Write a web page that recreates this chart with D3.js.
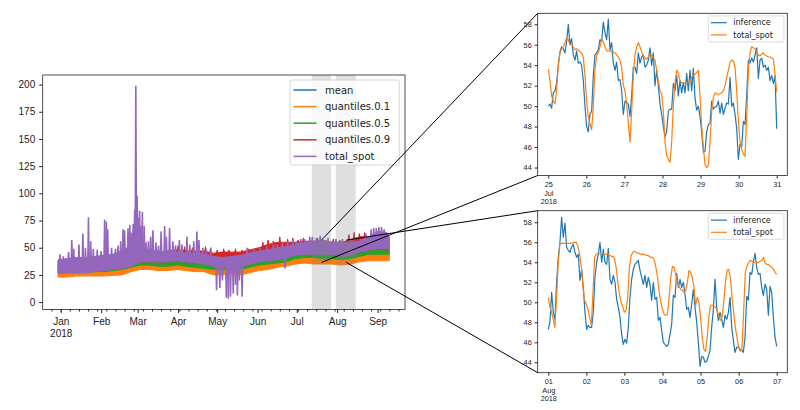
<!DOCTYPE html>
<html>
<head>
<meta charset="utf-8">
<script src="https://cdn.jsdelivr.net/npm/d3@7"></script>
<style>
  body { margin: 0; background: #fff; }
  svg { font-family: "DejaVu Sans", sans-serif; }
  .tick text { fill: #222; }
  .tick line { stroke: #222; }
</style>
</head>
<body>
<svg id="chart" width="800" height="410"></svg>
<script>

/**********************
***** DATA *****
**********************/

// left panel: dates are days after 30 Dec 2017, bands read roughly weekly
const bandDays = [0,7,14,21,28,35,42,49,56,63,70,77,84,91,98,105,112,119,126,133,140,147,154,161,168,175,182,189,196,203,210,217,224,231,238,245,252,254];
const meanVals = [30,29.5,29.5,30,30,31,31,32,34.5,36.5,36.5,36,36,37,36,35,34,33,32.5,33,32.5,34.5,36.5,37.5,38.5,40,42.5,43.5,43.5,43,42.5,41.5,42.5,45,47,47.5,47.5,47];
const q10Lo = [23,23,24,24,24,24,24.5,25,28,30,30,29,29,30,29,28,28,25,25,26,25,27,29,30,32,33,35,36,35,35,35,34,35,37,38,38,38,38];
const q10Hi = [29,28,28,28.5,29,29,29.5,31,33,36,35.5,35,35,36,35,34,33,32,31,32,31,33,35,36,37,38,40,41,41,40,40,39,40,43,44,45,45,44];
const q50Lo = [27,27,27,27,28,28,29,30,32,34,34,33,33,34,33,32,31,30,30,30,30,32,34,35,36,37,40,41,41,40,40,39,40,42,44,44,44,44];
const q50Hi = [32,31,31,32,32,33,33,34,37,39,39,38.5,39,39.5,38.5,37.5,37,36,35,36,35,37,39,40,41,43,45,46,46,46,45,44,45,48,50,51,51,50];
const q90Lo = [30,30,31,31,32,32,32,33,35,37,37,37,37,38,37,36,36,35,35,35,34,36,38,39,41,42,44,45,45,45,45,44,45,47,48,49,48,48];
const q90Hi = [38,39,40,40,41,41,41,42,44,45,46,46,47,48,47,47,47,45,46,46,46,48,50,53,55,55,55,56,56,56,55,55,57,60,60,60,59,57];
const spotLo = [26,27,27,27,28,29,30,31,33,37,37,37,37,38,37,36,35,33,32,33,33,35,37,38,39,41,43,44,44,44,44,42,43,46,48,49,49,48];
const spotHi = [39,40,41,41,42,43,44,47,52,50,48,47,46,46,45,45,44,42,41,42,43,45,47,48,50,51,53,55,56,57,55,55,55,56,60,65,64,60];

// total_spot spikes above / below its band
const spikeDays = [1.5,4,8,10.5,12,16,19,21,23.3,25,27,30,33,35.7,37,38,41,44,46,48,49.8,51,53.6,55,56,57.5,58.7,59.6,60.6,61.5,62.5,63.5,64.6,66,67.5,69.3,71,72.7,75,77,79,81.7,83,85.5,88,90,93,95,98.8,101,104,106.4,108,111,113.6,117,145,150,155,160,165,168,172,176,180,183,186,189,193,195,198,201,207,213,218,225,232,236,240,242,244,246,248,250];
const spikeVals = [44,42,46,57,49,53,63,50,78,56,49,48,47,76,74,67,50,49,52,56,67,66,68,71,64,72,85,199,98,78,84,70,83,70,55,56,60,66,55,52,65,70,60,68,56,52,57,53,60,53,56,65,57,50,49,50,50,49,50,51,53,53,55,55,57,56,58,58,60,60,59,61,59,58,58,58,58,63,67,68,68,69,69,67];
const dipDays = [121.5,124,126,129,130.5,132.2,134.3,136,137.5,139,141.1,174];
const dipVals = [11,13,20,4,3,5,8,16,6,20,5,31];

// daily peaks of quantiles.0.9 poking above the purple
const redPeakDays = [88,92,97,103,108,113,117,122,127,131,136,141,146,157,161,165,170,176,180,184,188,193,199,205,211,216,223,227,231,235];
const redPeakVals = [51,52,51,50,51,51,50,48,49,48,49,48,49,55,57,56,60,58,59,57,59,58,59,57,58,57,62,64,63,64];

// shaded windows and zoom connectors (days after 30 Dec 2017)
const spanStart = [194.5, 213];
const spanEnd = [209.3, 228.2];
const connectDays = [202, 221];
const connectVals = [57, 36.5];

const leftLabels = ["mean", "quantiles.0.1", "quantiles.0.5", "quantiles.0.9", "total_spot"];
const monthLabels = ["Jan", "Feb", "Mar", "Apr", "May", "Jun", "Jul", "Aug", "Sep"];
const leftYTicks = [0, 25, 50, 75, 100, 125, 150, 175, 200];

// right panels: roughly hourly readings, 25-31 Jul and 01-07 Aug 2018
const julInference = [50,50.2,49.8,51.3,51.5,52.3,54,55.3,55.8,55.6,55.2,56.3,58,56,56.6,55,54.5,55.4,54.2,54.3,54,52.5,50,48,47.5,49.2,49.5,53,55,55.2,55.5,56.5,56.3,58.2,57.2,56.5,58.5,55.5,56.2,54.2,53.5,54.3,52.5,52.6,51.5,49.2,50.5,50.3,50.2,49,51,53.8,53.8,53.2,55.2,54.2,54.8,55,53.8,54,54.5,55.7,54,55.2,52,53.5,52,50.2,49.2,48,47,47.5,49.5,49.7,49.7,52.2,51.5,53,51,52.5,51.3,52.3,51.3,53.2,51.5,53.5,51.5,53.7,50.8,49.6,50,49,47.5,45.5,45.6,47.5,48.2,48.3,50.5,49.7,49.9,50,50.5,49.3,50.3,49.2,49.8,50.3,50.2,52.8,50,50.3,49.2,47.8,44.8,46.3,46,48.5,48.2,51,54.5,54.2,54.7,54.3,55,55.7,52.7,54.5,54.7,53.8,54,53.5,53.8,52.5,53,52.2,53,47.8];
const julSpot = [53.6,52.5,51,50.5,50.2,51.5,54,55.2,55.6,55.8,56.2,56.7,56.5,56,56,55.8,55.5,55.6,55.5,55.3,55.2,54.8,53,50.5,49,48.3,47.7,50,53.5,55,55.2,55.8,56.5,56.3,55.8,55.4,55.4,55.4,55.3,55.3,55.2,55,54.8,54.5,53.8,52,51.5,50.3,48.3,46.5,49.5,53,55,55.8,56.2,55.8,55.3,54.9,54.7,54.6,54.8,55.1,55,54.7,54.5,53.5,52.5,51.5,51.2,49.5,46.5,45.2,44.8,44.5,46.5,50,52.3,53.5,53.2,52.5,52.3,52.3,52.2,52.2,52.3,52.4,52.8,53,53.1,53.3,53.5,51,48,46,44.3,44,44.2,46.5,49.5,50.8,51.3,51.2,51.1,51.2,51.3,51.5,52,52.8,53.5,54.3,54.5,54.4,53.8,51.5,48.5,46.5,45.8,45.3,45.1,49,53.5,55.2,55.8,55.7,55.6,55.3,55,54.9,55.1,55.2,55,54.9,54.8,54.8,54.7,54.6,53,51.4];
const augInference = [47.3,48,51,49,48.3,52,54.5,56,58.5,56.5,57.9,55.5,55.2,55,55.5,55.8,55,54.5,54.8,52.2,53.3,51.5,49,47.3,47.7,47.5,47.5,49,52.5,54,54.8,56,54,55.3,54,53.8,55.4,52.3,51.8,52.7,52,50.3,49.5,48.5,46.8,45.8,46.3,45.9,47.5,50.5,52.3,53.3,53.8,54,54.2,53.2,52.5,51.8,52.7,51.5,52.5,51.8,50.2,52,50.3,50.5,48.2,48.5,47.2,46,45.8,45.6,45.8,46.8,47.8,50.7,50.5,52.9,51.5,52.3,51.5,52,50.8,49.3,49.5,48.5,49.8,51.3,49.5,48,46,43.6,44.6,44.5,44,44.1,44.6,45.2,47.5,49.3,52.3,49.5,48.2,49,48.3,47.5,48.7,48.3,49,50.5,47.5,46.2,45,45.5,45.5,45.3,45.2,45,46.5,50.6,50.2,53,52.8,54,54.9,53.5,52.8,52.9,51.5,50.7,51.8,51.3,48.7,51.6,51,48.5,46.5,45.6];
const augSpot = [50.5,49.5,49,48.3,47.5,50.5,54,55.8,55.9,55.9,55.9,55.9,55.9,55.9,55.9,56,56,56,55.5,54.8,53.5,51.5,50.2,49.8,49.3,48.5,47.7,51,54.5,54.8,54.9,54.9,54.9,54.9,54.8,54.8,54.8,54.7,54.6,54.6,54.4,53.5,52,50.8,50,49.5,49,49.2,50.5,53.5,54.6,55,55.1,55,54.9,54.9,54.8,54.8,54.8,54.7,54.7,54.6,54.5,54.5,54.3,53.5,52.5,51,50,49.3,48.8,48.7,48.8,50.5,52.5,53.6,53.5,52.8,52,51.6,51.3,51.2,51,51.2,52,53.2,53,52.5,51.5,49.7,50.5,50,48.5,46.5,45.3,45.1,46.5,48.5,49.7,49.7,49.6,49.5,49.2,48.6,48.2,48.5,50,52,53.2,53.3,52.5,50.5,49,47.5,46.5,45.5,45.1,45.3,49,53,53.6,54,54.2,54.1,54,54,54,54,54.1,54.2,54.5,53.9,53.8,53.8,53.6,53.5,53.3,53,52.8];

const rightLabels = ["inference", "total_spot"];
const rightYTicks = [44, 46, 48, 50, 52, 54, 56, 58];

/**********************
***** BASIC SETUP *****
**********************/

const svg = d3.select("#chart");
const C = {blue: "#1f77b4", orange: "#ff7f0e", green: "#2ca02c", red: "#d62728", purple: "#9467bd"};
const DAY = 864e5;
const base = Date.UTC(2017, 11, 30);
const dayDate = d => new Date(base + d * DAY);

/***********************
***** LEFT PANEL *****
***********************/

const L = {left: 42.7, right: 405, top: 75, bottom: 309.5};

const xL = d3.scaleUtc()
    .domain([dayDate(-11.8), dayDate(266)])
    .range([L.left, L.right]);

const yL = d3.scaleLinear()
    .domain([-6.8, 208.8])
    .range([L.bottom, L.top]);

const left = svg.append("g").attr("id", "left");

// mean first, it ends up hidden under the bands
left.append("path")
    .datum(bandDays)
    .attr("fill", "none")
    .attr("stroke", C.blue)
    .attr("stroke-width", 1.5)
    .attr("d", d3.line().x(d => xL(dayDate(d))).y((d, i) => yL(meanVals[i])));

function band(lo, hi, color) {
    left.append("path")
        .datum(bandDays)
        .attr("fill", color)
        .attr("stroke", color)
        .attr("stroke-width", 1)
        .attr("d", d3.area()
            .x(d => xL(dayDate(d)))
            .y0((d, i) => yL(lo[i]))
            .y1((d, i) => yL(hi[i])));
}

// middle of a band, used as the foot of the spikes
function bandMid(lo, hi) {
    return d3.scaleLinear()
        .domain(bandDays)
        .range(bandDays.map((d, i) => (lo[i] + hi[i]) / 2));
}

const spikeLine = d3.line().x(p => xL(dayDate(p[0]))).y(p => yL(p[1]));

function spikes(days, vals, mid, halfWidth, color, width) {
    left.append("g").selectAll("path")
        .data(days.map((d, i) => [d, vals[i]]))
        .enter()
        .append("path")
        .attr("fill", color)
        .attr("stroke", color)
        .attr("stroke-width", width)
        .attr("d", s => spikeLine([[s[0] - halfWidth, mid(s[0])], [s[0], s[1]], [s[0] + halfWidth, mid(s[0])]]));
}

band(q10Lo, q10Hi, C.orange);
band(q50Lo, q50Hi, C.green);
band(q90Lo, q90Hi, C.red);
spikes(redPeakDays, redPeakVals, bandMid(q90Lo, q90Hi), 1.3, C.red, 1);
band(spotLo, spotHi, C.purple);

const spotMid = bandMid(spotLo, spotHi);
spikes(spikeDays, spikeVals, spotMid, 0.5, C.purple, 1.6);
spikes(dipDays, dipVals, spotMid, 0.5, C.purple, 1.6);

// grey windows drawn over the lines
left.selectAll(".span")
    .data(spanStart)
    .enter()
    .append("rect")
    .attr("class", "span")
    .attr("x", (d, i) => xL(dayDate(d)))
    .attr("width", (d, i) => xL(dayDate(spanEnd[i])) - xL(dayDate(d)))
    .attr("y", L.top)
    .attr("height", L.bottom - L.top)
    .attr("fill", "#808080")
    .attr("opacity", 0.25);

// axes
const monthTicks = d3.range(0, 9).map(m => new Date(Date.UTC(2018, m, 1)));

const xAxisL = left.append("g")
    .attr("transform", `translate(0, ${L.bottom})`)
    .call(d3.axisBottom(xL)
        .tickValues(monthTicks)
        .tickSize(3.5)
        .tickPadding(4.5)
        .tickFormat((d, i) => monthLabels[i]));
xAxisL.selectAll("text").attr("font-size", 10);
xAxisL.select(".tick text")
    .append("tspan").attr("x", 0).attr("dy", "1.2em").text("2018");
xAxisL.select(".domain").remove();

left.append("g")
    .attr("transform", `translate(0, ${L.bottom})`)
    .call(d3.axisBottom(xL)
        .ticks(d3.utcMonday.every(1))
        .tickSize(2)
        .tickFormat(""))
    .call(g => g.select(".domain").remove());

const yAxisL = left.append("g")
    .attr("transform", `translate(${L.left}, 0)`)
    .call(d3.axisLeft(yL)
        .tickValues(leftYTicks)
        .tickSize(3.5)
        .tickPadding(4));
yAxisL.selectAll("text").attr("font-size", 10);
yAxisL.select(".domain").remove();

left.append("rect")
    .attr("x", L.left).attr("y", L.top)
    .attr("width", L.right - L.left).attr("height", L.bottom - L.top)
    .attr("fill", "none").attr("stroke", "#222").attr("stroke-width", 0.8);

// legend
const legL = left.append("g").attr("transform", "translate(290, 80)");
legL.append("rect")
    .attr("width", 109.3).attr("height", 85).attr("rx", 2)
    .attr("fill", "#fff").attr("fill-opacity", 0.8)
    .attr("stroke", "#ccc").attr("stroke-width", 0.8);

const legColors = [C.blue, C.orange, C.green, C.red, C.purple];
leftLabels.forEach((lab, i) => {
    const y = 10 + i * 16.6;
    legL.append("line")
        .attr("x1", 3.5).attr("x2", 26.5).attr("y1", y).attr("y2", y)
        .attr("stroke", legColors[i]).attr("stroke-width", 1.5);
    legL.append("text")
        .attr("x", 35).attr("y", y).attr("dy", "0.35em")
        .attr("font-size", 10).attr("fill", "#222")
        .text(lab);
});

/***********************
***** RIGHT PANELS *****
***********************/

function rightPanel(startUtc, yTop, yBottom, yDomain, inference, spot) {
    const R = {left: 537.7, right: 787.3, top: yTop, bottom: yBottom};
    const t0 = startUtc;
    const x = d3.scaleUtc()
        .domain([new Date(t0 - 0.278 * DAY), new Date(t0 + 6.278 * DAY)])
        .range([R.left, R.right]);
    const y = d3.scaleLinear().domain(yDomain).range([R.bottom, R.top]);
    const g = svg.append("g");

    [[inference, C.blue], [spot, C.orange]].forEach(([vals, color]) => {
        const step = 6 * DAY / (vals.length - 1);
        g.append("path")
            .datum(vals)
            .attr("fill", "none")
            .attr("stroke", color)
            .attr("stroke-width", 1.2)
            .attr("stroke-linejoin", "round")
            .attr("d", d3.line()
                .x((d, i) => x(new Date(t0 + i * step)))
                .y(d => y(d)));
    });

    const dayTicks = d3.range(0, 7).map(i => new Date(t0 + i * DAY));
    const xa = g.append("g")
        .attr("transform", `translate(0, ${R.bottom})`)
        .call(d3.axisBottom(x)
            .tickValues(dayTicks)
            .tickSize(3)
            .tickPadding(3.5)
            .tickFormat(d3.utcFormat("%d")));
    xa.selectAll("text").attr("font-size", 7.3);
    const first = xa.select(".tick text");
    first.append("tspan").attr("x", 0).attr("dy", "1.15em").text(d3.utcFormat("%b")(dayTicks[0]));
    first.append("tspan").attr("x", 0).attr("dy", "1.15em").text("2018");
    xa.select(".domain").remove();

    const ya = g.append("g")
        .attr("transform", `translate(${R.left}, 0)`)
        .call(d3.axisLeft(y)
            .tickValues(rightYTicks)
            .tickSize(3)
            .tickPadding(3));
    ya.selectAll("text").attr("font-size", 7.3);
    ya.select(".domain").remove();

    g.append("rect")
        .attr("x", R.left).attr("y", R.top)
        .attr("width", R.right - R.left).attr("height", R.bottom - R.top)
        .attr("fill", "none").attr("stroke", "#222").attr("stroke-width", 0.8);

    const leg = g.append("g").attr("transform", `translate(708.3, ${R.top + 2.6})`);
    leg.append("rect")
        .attr("width", 75.7).attr("height", 26).attr("rx", 1.5)
        .attr("fill", "#fff").attr("fill-opacity", 0.8)
        .attr("stroke", "#ccc").attr("stroke-width", 0.7);
    rightLabels.forEach((lab, i) => {
        const yy = 6.8 + i * 12.2;
        leg.append("line")
            .attr("x1", 2.5).attr("x2", 18.5).attr("y1", yy).attr("y2", yy)
            .attr("stroke", [C.blue, C.orange][i]).attr("stroke-width", 1.2);
        leg.append("text")
            .attr("x", 25).attr("y", yy).attr("dy", "0.35em")
            .attr("font-size", 8).attr("fill", "#222")
            .text(lab);
    });

    return {x, y, corner: {x: R.left, top: R.top, bottom: R.bottom}};
}

const jul = rightPanel(Date.UTC(2018, 6, 25), 13.3, 175.5, [43.22, 59.07], julInference, julSpot);
const aug = rightPanel(Date.UTC(2018, 7, 1), 210.7, 372.7, [42.96, 59.16], augInference, augSpot);

/**************************
***** ZOOM CONNECTORS *****
**************************/

const connectors = [
    [connectDays[0], connectVals[0], jul.corner.x, jul.corner.top],
    [connectDays[0], connectVals[1], jul.corner.x, jul.corner.bottom],
    [connectDays[1], connectVals[0], aug.corner.x, aug.corner.top],
    [connectDays[1], connectVals[1], aug.corner.x, aug.corner.bottom]
];

svg.append("g").selectAll("line")
    .data(connectors)
    .enter()
    .append("line")
    .attr("x1", c => xL(dayDate(c[0])))
    .attr("y1", c => yL(c[1]))
    .attr("x2", c => c[2])
    .attr("y2", c => c[3])
    .attr("stroke", "#000")
    .attr("stroke-width", 1);

</script>
</body>
</html>
